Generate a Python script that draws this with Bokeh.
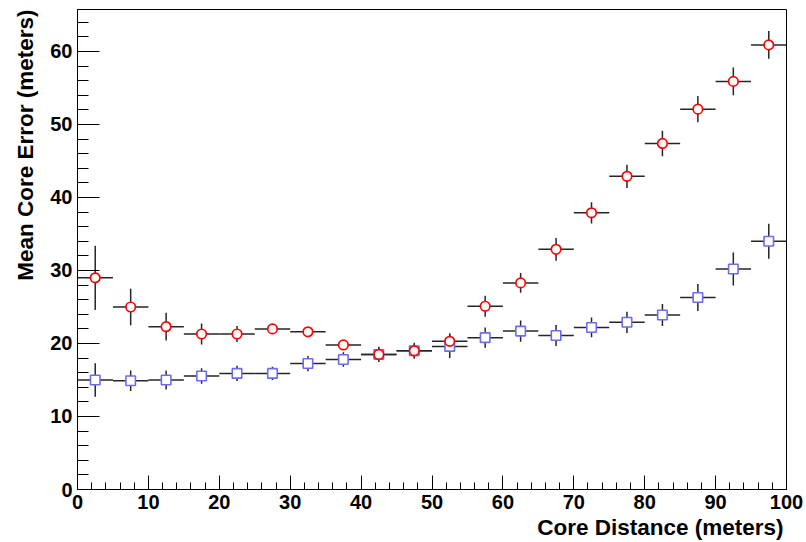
from bokeh.plotting import figure
from bokeh.models import ColumnDataSource, Range1d, SingleIntervalTicker, Title
from bokeh.embed import file_html
from bokeh.resources import INLINE

# Binned core-reconstruction error vs. core distance (5 m bins)
bin_center = [2.5, 7.5, 12.5, 17.5, 22.5, 27.5, 32.5, 37.5, 42.5, 47.5,
              52.5, 57.5, 62.5, 67.5, 72.5, 77.5, 82.5, 87.5, 92.5, 97.5]
bin_half_width = 2.5

red_mean = [29.0, 25.0, 22.3, 21.3, 21.3, 22.0, 21.6, 19.8, 18.5, 19.0,
            20.3, 25.1, 28.3, 32.9, 37.9, 42.9, 47.4, 52.1, 55.9, 60.9]
red_err = [4.4, 2.5, 1.9, 1.45, 1.1, 0.6, 0.5, 0.6, 0.8, 0.9,
           1.1, 1.45, 1.35, 1.55, 1.45, 1.6, 1.75, 1.8, 1.9, 1.9]

blue_mean = [15.0, 14.9, 15.0, 15.55, 15.9, 15.9, 17.25, 17.8, 18.5, 19.0,
             19.6, 20.8, 21.7, 21.1, 22.2, 22.9, 23.9, 26.3, 30.2, 34.0]
blue_err = [2.3, 1.4, 1.3, 1.05, 1.05, 0.9, 1.05, 1.0, 1.05, 1.1,
            1.6, 1.4, 1.45, 1.45, 1.35, 1.45, 1.5, 1.85, 2.25, 2.4]

x_title = "Core Distance (meters)"
y_title = "Mean Core Error (meters)"

FONT = "Liberation Sans"
ERR_COLOR = "#262626"
RED = "#ff0000"
BLUE = "#6c6cf0"


def make_source(means, errs):
    return ColumnDataSource(dict(
        x=bin_center,
        y=means,
        x0=[c - bin_half_width for c in bin_center],
        x1=[c + bin_half_width for c in bin_center],
        y0=[m - e for m, e in zip(means, errs)],
        y1=[m + e for m, e in zip(means, errs)],
    ))


red_src = make_source(red_mean, red_err)
blue_src = make_source(blue_mean, blue_err)

p = figure(width=806, height=542, output_backend="svg", toolbar_location=None,
           x_range=Range1d(0, 100), y_range=Range1d(0, 65.75),
           min_border_left=77, min_border_right=20,
           min_border_top=9, min_border_bottom=53)

p.background_fill_color = "white"
p.border_fill_color = "white"
p.outline_line_color = "black"
p.outline_line_width = 1
p.xgrid.visible = False
p.ygrid.visible = False

# ROOT-style inward ticks
p.xaxis.ticker = SingleIntervalTicker(interval=10, num_minor_ticks=5)
p.yaxis.ticker = SingleIntervalTicker(interval=10, num_minor_ticks=5)
for ax, major, minor in ((p.xaxis, 14, 7), (p.yaxis, 22, 11)):
    ax.major_tick_in = major
    ax.major_tick_out = 0
    ax.minor_tick_in = minor
    ax.minor_tick_out = 0
    ax.major_tick_line_color = "black"
    ax.minor_tick_line_color = "black"
    ax.axis_line_color = "black"
    ax.major_label_text_font = FONT
    ax.major_label_text_font_style = "bold"
    ax.major_label_text_font_size = "20px"
    ax.major_label_text_color = "black"
p.xaxis.major_label_standoff = 5
p.yaxis.major_label_standoff = 5

# Error bars: horizontal bin width and vertical uncertainty
for src in (blue_src, red_src):
    p.segment(x0="x0", x1="x1", y0="y", y1="y", source=src,
              line_color=ERR_COLOR, line_width=1.5)
    p.segment(x0="x", x1="x", y0="y0", y1="y1", source=src,
              line_color=ERR_COLOR, line_width=1.5)

p.scatter(x="x", y="y", source=blue_src, marker="square", size=9.5,
          fill_color="white", line_color=BLUE, line_width=1.6)
p.scatter(x="x", y="y", source=red_src, marker="circle", size=9.5,
          fill_color="white", line_color=RED, line_width=1.7)

# Axis titles, aligned to the axis ends as in ROOT
p.add_layout(Title(text=x_title, align="right", text_font=FONT,
                   text_font_style="bold", text_font_size="22.5px",
                   text_color="black", standoff=2, offset=3), "below")
p.add_layout(Title(text=y_title, align="right", text_font=FONT,
                   text_font_style="bold", text_font_size="22.5px",
                   text_color="black", standoff=19, offset=0), "left")

open("out.html", "w").write(file_html(p, INLINE))
